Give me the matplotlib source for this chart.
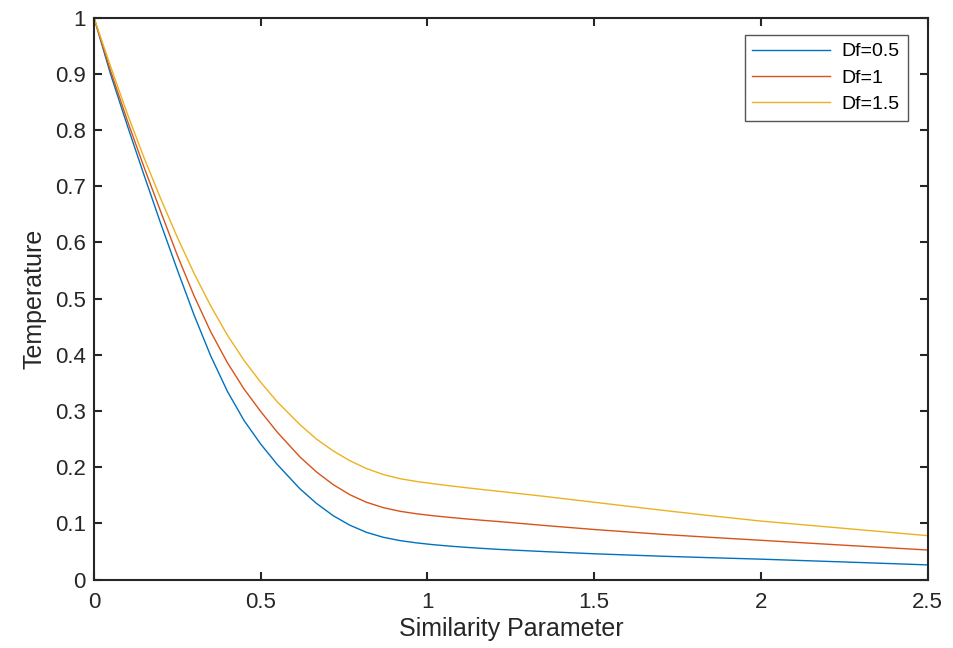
import matplotlib
matplotlib.use('Agg')
import matplotlib.pyplot as plt

# similarity parameter values
eta = [0, 0.05, 0.1, 0.15, 0.2, 0.25, 0.3, 0.35, 0.4, 0.45, 0.5, 0.55,
       0.617, 0.667, 0.717, 0.767, 0.817, 0.867, 0.917, 0.967, 1.017, 1.067, 1.117,
       1.167, 1.217, 1.35, 1.5, 1.7, 1.85, 2.0, 2.25, 2.5]

temp_df05 = [1, 0.899, 0.808, 0.72, 0.634, 0.551, 0.471, 0.398, 0.335, 0.283, 0.241, 0.2045,
             0.1618, 0.1355, 0.1137, 0.0967, 0.084, 0.0752, 0.0693, 0.0652, 0.062, 0.0594,
             0.0572, 0.0553, 0.0535, 0.0497, 0.0458, 0.0415, 0.0388, 0.0362, 0.0312, 0.026]
temp_df1 = [1, 0.905, 0.817, 0.734, 0.655, 0.577, 0.505, 0.441, 0.386, 0.339, 0.299, 0.262,
            0.2185, 0.1915, 0.169, 0.151, 0.1375, 0.128, 0.1215, 0.117, 0.1135, 0.1105,
            0.1078, 0.1053, 0.103, 0.0962, 0.089, 0.0805, 0.075, 0.0698, 0.061, 0.0525]
temp_df15 = [1, 0.913, 0.829, 0.751, 0.678, 0.609, 0.545, 0.487, 0.435, 0.39, 0.351, 0.316,
             0.276, 0.25, 0.229, 0.2115, 0.1975, 0.187, 0.1795, 0.1745, 0.1705, 0.1668,
             0.1633, 0.16, 0.1568, 0.148, 0.1375, 0.1235, 0.1135, 0.104, 0.091, 0.078]

labels = ['Df=0.5', 'Df=1', 'Df=1.5']
colors = ['#0072BD', '#D95319', '#EDB120']

plt.rcParams['font.family'] = ['Liberation Sans', 'DejaVu Sans']

fig = plt.figure(figsize=(9.54, 6.48), dpi=100)
ax = fig.add_axes([0.0985, 0.1057, 0.874, 0.867])

for ys, lab, col in zip([temp_df05, temp_df1, temp_df15], labels, colors):
    ax.plot(eta, ys, color=col, linewidth=1.0, label=lab)

ax.set_xlim(0, 2.5)
ax.set_ylim(0, 1)
ax.set_xticks([0, 0.5, 1, 1.5, 2, 2.5])
ax.set_xticklabels(['0', '0.5', '1', '1.5', '2', '2.5'])
ax.set_yticks([i / 10 for i in range(11)])
ax.set_yticklabels(['0', '0.1', '0.2', '0.3', '0.4', '0.5', '0.6', '0.7', '0.8', '0.9', '1'])

dark = '#262626'
for s in ax.spines.values():
    s.set_linewidth(1.5)
    s.set_color(dark)
ax.tick_params(direction='in', length=5.5, width=1.5, color=dark, labelcolor=dark,
               labelsize=16, top=True, right=True)
ax.tick_params(axis='y', pad=6)
ax.tick_params(axis='x', pad=9)

ax.set_xlabel('Similarity Parameter', fontsize=18, color=dark, labelpad=3)
ax.set_ylabel('Temperature', fontsize=18, color=dark, labelpad=6)

leg = ax.legend(loc='upper right', bbox_to_anchor=(0.976, 0.969), fontsize=14,
                fancybox=False, framealpha=1, edgecolor='#555555',
                handlelength=4.0, handletextpad=0.6, labelspacing=0.45,
                borderpad=0.4, borderaxespad=0)
leg.get_frame().set_linewidth(1.0)

fig.savefig('out.png', dpi=100)
